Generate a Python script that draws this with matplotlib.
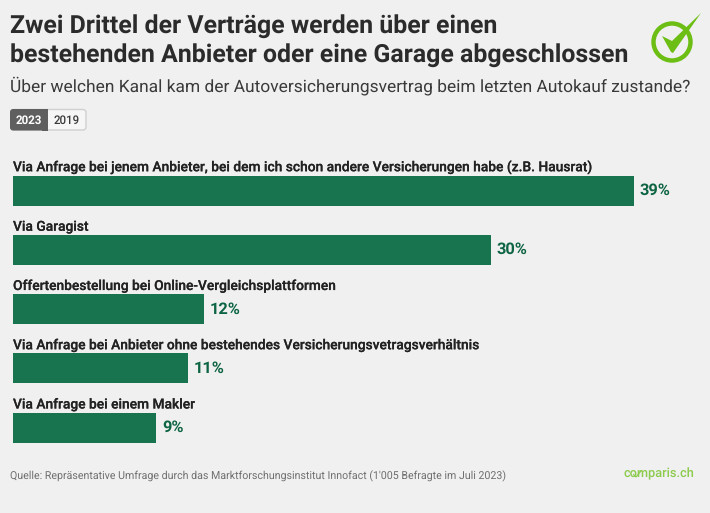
import matplotlib
matplotlib.use("Agg")
import matplotlib.pyplot as plt
import matplotlib.patheffects as pe
from matplotlib.patches import Circle, FancyBboxPatch, Polygon, Rectangle

plt.rcParams["font.family"] = ["Roboto", "DejaVu Sans"]
plt.rcParams["text.hinting"] = "no_hinting"
plt.rcParams["text.hinting_factor"] = 8

W, H = 710, 513
BG = "#f0f0f0"
BAR = "#18734f"
LABEL = "#0e6544"
DARK = "#2b2b2b"
LIME = "#6cbe14"

categories = [
    "Via Anfrage bei jenem Anbieter, bei dem ich schon andere Versicherungen habe (z.B. Hausrat)",
    "Via Garagist",
    "Offertenbestellung bei Online-Vergleichsplattformen",
    "Via Anfrage bei Anbieter ohne bestehendes Versicherungsvetragsverhältnis",
    "Via Anfrage bei einem Makler",
]
values_2023 = [39, 30, 12, 11, 9]
year_labels = ["2023", "2019"]

title_lines = [
    "Zwei Drittel der Verträge werden über einen",
    "bestehenden Anbieter oder eine Garage abgeschlossen",
]
subtitle = "Über welchen Kanal kam der Autoversicherungsvertrag beim letzten Autokauf zustande?"
source = "Quelle: Repräsentative Umfrage durch das Marktforschungsinstitut Innofact (1'005 Befragte im Juli 2023)"

fig = plt.figure(figsize=(W / 100, H / 100), dpi=100, facecolor=BG)

# overlay in pixel coords for everything around the chart
bg = fig.add_axes([0, 0, 1, 1])
bg.set_xlim(0, W)
bg.set_ylim(H, 0)
bg.axis("off")

bg.text(10, 26, title_lines[0], fontsize=17.95, fontweight="bold", color=DARK, va="center")
bg.text(10, 55, title_lines[1], fontsize=17.95, fontweight="bold", color=DARK, va="center")
bg.text(10, 86, subtitle, fontsize=12.53, color="#3a3a3a", va="center")

# year toggle
bg.add_patch(FancyBboxPatch((11, 109.5), 75, 20.5, boxstyle="round,pad=0,rounding_size=3",
                            fc="#f6f6f6", ec="#d0d0d0", lw=1))
bg.add_patch(FancyBboxPatch((10, 109), 38, 21.5, boxstyle="round,pad=0,rounding_size=3",
                            fc="#5f5f5f", ec="none"))
bg.add_patch(Rectangle((42, 109), 6, 21.5, fc="#5f5f5f", ec="none"))
bg.text(29, 120.8, year_labels[0], fontsize=8.3, fontweight="bold", color="white", ha="center", va="center")
bg.text(67, 120.8, year_labels[1], fontsize=8.3, fontweight="medium", color="#3a3a3a", ha="center", va="center")

# logo
bg.add_patch(Circle((672, 42), 18.5, fc="none", ec=LIME, lw=3.2))
bg.add_patch(Polygon([(662, 36), (672, 41), (701, 13), (673, 53), (671, 52)],
                     closed=True, fc=LIME, ec="none"))

bg.text(10, 476, source, fontsize=7.65, color="#6f6f6f", va="center")
bg.text(694, 474, "comparis.ch", fontsize=9.2, fontweight="medium", color="#8ccb4e", ha="right", va="center")
# little tick through the o of the wordmark
bg.plot([633.5, 636, 641], [474.5, 477, 471], color="#8ccb4e", lw=0.8)

# bars
left, right = 13, 704
ax = fig.add_axes([left / W, 1 - 442.5 / H, (right - left) / W, (442.5 - 145.5) / H])
ax.patch.set_alpha(0)
ax.set_xlim(0, (right - left) / 15.93)
ax.axis("off")

pos = list(range(len(categories)))
ax.set_ylim(4 + 0.253, -0.76)
ax.barh(pos, values_2023, height=0.506, color=BAR)

for i, (cat, val) in enumerate(zip(categories, values_2023)):
    t = ax.annotate(cat, (0, i), xytext=(0, 11.6), textcoords="offset points",
                    fontsize=9.92, fontweight="medium", color="#222222", va="bottom", ha="left")
    t.set_path_effects([pe.withStroke(linewidth=0.12, foreground="#222222")])
    ax.annotate(f"{val}%", (val, i), xytext=(4, 0), textcoords="offset points",
                fontsize=11.8, fontweight="bold", color=LABEL, va="center", ha="left")

fig.savefig("out.png", dpi=100, facecolor=BG)
